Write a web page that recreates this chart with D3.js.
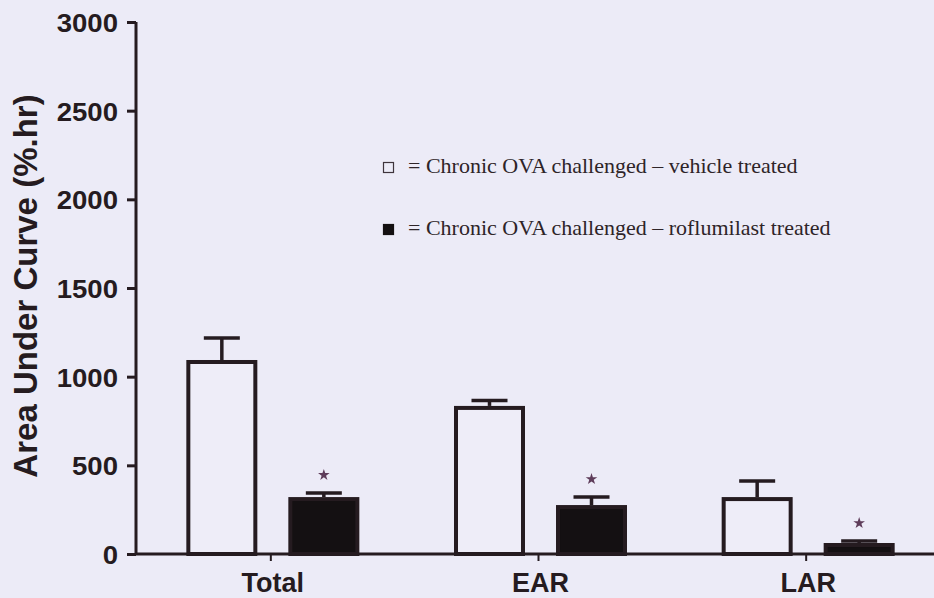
<!DOCTYPE html>
<html>
<head>
<meta charset="utf-8">
<script src="https://cdn.jsdelivr.net/npm/d3@7/dist/d3.min.js"></script>
<style>
  html, body { margin: 0; padding: 0; background: #ECEBF7; }
  svg { display: block; }
</style>
</head>
<body>
<svg id="chart" width="934" height="598"></svg>
<script>
// ---- data ----
const categories = ["Total", "EAR", "LAR"];
const seriesNames = ["vehicle", "roflumilast"];
const vehicleValues = [1094, 835, 321];
const vehicleErrors = [124, 30, 91];
const roflumilastValues = [321, 276, 62];
const roflumilastErrors = [23, 45, 11];
const significant = [true, true, true]; // roflumilast vs vehicle
const yTicks = [0, 500, 1000, 1500, 2000, 2500, 3000];
const legendLabels = [
  "= Chronic OVA challenged \u2013 vehicle treated",
  "= Chronic OVA challenged \u2013 roflumilast treated"
];
const yTitle = "Area Under Curve (%.hr)";

// ---- layout ----
const ink = "#251b20";
const svg = d3.select("#chart");

const y = d3.scaleLinear().domain([0, 3000]).range([554, 22]);
const x = d3.scaleBand().domain(categories).range([139, 942]).padding(0);
const inner = d3.scaleBand().domain(seriesNames).range([-86.5, 86.5]).paddingInner(0.304);

const rows = categories.map((c, i) => ({
  cat: c,
  bars: [
    { s: "vehicle", v: vehicleValues[i], e: vehicleErrors[i] },
    { s: "roflumilast", v: roflumilastValues[i], e: roflumilastErrors[i] }
  ],
  sig: significant[i]
}));

const g = svg.append("g");

const grp = g.selectAll("g.grp").data(rows).join("g")
  .attr("class", "grp")
  .attr("transform", d => `translate(${x(d.cat) + x.bandwidth() / 2},0)`);

// error bars
grp.selectAll("g.err").data(d => d.bars).join("g").each(function(b) {
  const cx = inner(b.s) + inner.bandwidth() / 2;
  const sel = d3.select(this);
  sel.append("line").attr("x1", cx).attr("x2", cx)
    .attr("y1", y(b.v)).attr("y2", y(b.v + b.e))
    .attr("stroke", ink).attr("stroke-width", 3.5);
  sel.append("line").attr("x1", cx - 18).attr("x2", cx + 18)
    .attr("y1", y(b.v + b.e)).attr("y2", y(b.v + b.e))
    .attr("stroke", ink).attr("stroke-width", 3.5);
});

// bars
const sw = 4;
grp.selectAll("rect.bar").data(d => d.bars).join("rect")
  .attr("class", "bar")
  .attr("x", b => inner(b.s) + sw / 2)
  .attr("width", inner.bandwidth() - sw)
  .attr("y", b => y(b.v) + sw / 2)
  .attr("height", b => y(0) - y(b.v) - sw / 2)
  .attr("fill", b => b.s === "vehicle" ? "#EEEDF8" : "#141012")
  .attr("stroke", ink)
  .attr("stroke-width", sw);

// significance stars
const star = d3.symbol().type(d3.symbolStar).size(42);
grp.filter(d => d.sig).append("path")
  .attr("d", star())
  .attr("transform", d => `translate(${inner("roflumilast") + inner.bandwidth() / 2},${y(d.bars[1].v + d.bars[1].e) - 18})`)
  .attr("fill", "#5e3c5a");

// y axis
const yAxis = d3.axisLeft(y).tickValues(yTicks).tickSize(9).tickPadding(6).tickFormat(d3.format("d"));
const ya = g.append("g").attr("transform", "translate(136,0)").call(yAxis);
ya.select(".domain").attr("stroke", ink).attr("stroke-width", 3).attr("d", `M0,${y(3000)}V${y(0)}`);
ya.selectAll(".tick line").attr("stroke", ink).attr("stroke-width", 3);
ya.selectAll(".tick text")
  .attr("font-family", "Liberation Sans, Arial, sans-serif")
  .attr("font-weight", "bold").attr("font-size", 26).attr("fill", ink)
  .attr("transform", "scale(1.06,1)")
  .attr("x", -17).attr("dy", "0.36em");

// x axis
const xAxis = d3.axisBottom(x).tickSize(7).tickPadding(10);
const xa = g.append("g").attr("transform", `translate(0,${y(0)})`).call(xAxis);
xa.select(".domain").attr("stroke", ink).attr("stroke-width", 3).attr("d", `M136,0H934`);
xa.selectAll(".tick line").attr("stroke", ink).attr("stroke-width", 2).attr("transform", "translate(-2,0)");
xa.selectAll(".tick text")
  .attr("font-family", "Liberation Sans, Arial, sans-serif")
  .attr("font-weight", "bold").attr("font-size", 27).attr("fill", ink)
  .attr("dy", "0.78em");

// y title
g.append("text")
  .attr("transform", "translate(37,286) rotate(-90)")
  .attr("text-anchor", "middle")
  .attr("font-family", "Liberation Sans, Arial, sans-serif")
  .attr("font-weight", "bold").attr("font-size", 33).attr("fill", ink)
  .text(yTitle);

// legend
const leg = g.append("g").selectAll("g").data(legendLabels).join("g")
  .attr("transform", (d, i) => `translate(383,${173 + i * 62})`);
leg.append("rect").attr("x", 0.5).attr("y", -10.5).attr("width", 10).attr("height", 10)
  .attr("fill", (d, i) => i === 0 ? "#ECEBF7" : "#141012")
  .attr("stroke", (d, i) => i === 0 ? "#3e343c" : "#141012").attr("stroke-width", 1.2);
leg.append("text").attr("x", 25).attr("y", 0)
  .attr("font-family", "Liberation Serif, Times New Roman, serif")
  .attr("font-size", 22).attr("fill", "#2e2428")
  .text(d => d);
</script>
</body>
</html>
